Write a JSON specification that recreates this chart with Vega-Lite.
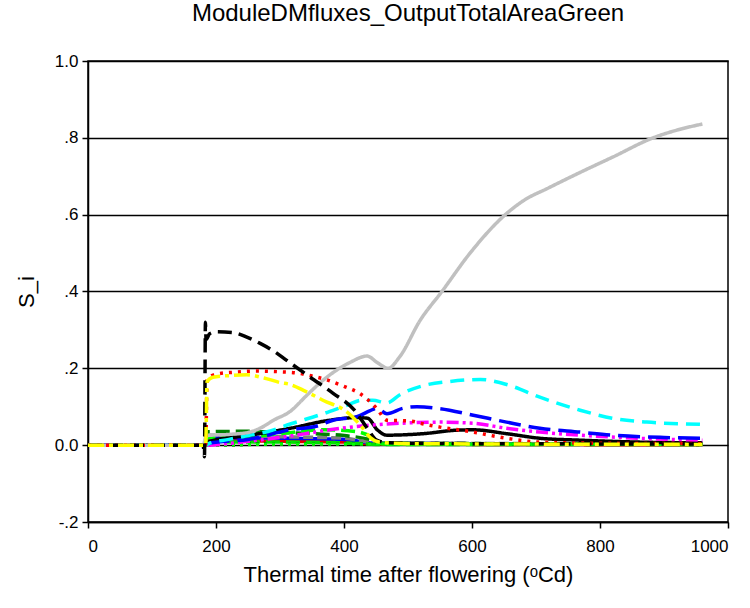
{
  "$schema": "https://vega.github.io/schema/vega-lite/v6.json",
  "autosize": "none",
  "width": 640,
  "height": 461,
  "padding": {"left": 88, "top": 61, "right": 22, "bottom": 86},
  "background": "white",
  "title": {"text": "ModuleDMfluxes_OutputTotalAreaGreen", "anchor": "middle", "frame": "group", "font": "Liberation Sans", "fontSize": 24, "fontWeight": "normal", "color": "black", "offset": 26},
  "config": {
    "view": {"stroke": "black", "strokeWidth": 1.5},
    "axis": {"labelFont": "Liberation Sans", "titleFont": "Liberation Sans", "labelFontSize": 17, "titleFontSize": 22, "titleFontWeight": "normal", "labelColor": "black", "titleColor": "black", "domainColor": "black", "tickColor": "black", "domainWidth": 1.5, "tickWidth": 1.5, "tickSize": 6}
  },
  "data": {"values": [
    {"s":"redsolid","x":0,"y":0},{"s":"redsolid","x":184,"y":0},{"s":"redsolid","x":186,"y":0.012},{"s":"redsolid","x":300,"y":0.01},{"s":"redsolid","x":400,"y":0.008},{"s":"redsolid","x":450,"y":0.003},{"s":"redsolid","x":960,"y":0.001},
    {"s":"bluesolid","x":0,"y":0},{"s":"bluesolid","x":184,"y":0},{"s":"bluesolid","x":186,"y":0.02},{"s":"bluesolid","x":300,"y":0.018},{"s":"bluesolid","x":400,"y":0.015},{"s":"bluesolid","x":450,"y":0.005},{"s":"bluesolid","x":960,"y":0.002},
    {"s":"graymid","x":0,"y":0},{"s":"graymid","x":184,"y":0},{"s":"graymid","x":186,"y":0.026},{"s":"graymid","x":300,"y":0.022},{"s":"graymid","x":400,"y":0.018},{"s":"graymid","x":450,"y":0.006},{"s":"graymid","x":960,"y":0.003},
    {"s":"greenlow","x":0,"y":0},{"s":"greenlow","x":184,"y":0},{"s":"greenlow","x":186,"y":0.008},{"s":"greenlow","x":300,"y":0.008},{"s":"greenlow","x":400,"y":0.006},{"s":"greenlow","x":450,"y":0.002},{"s":"greenlow","x":960,"y":0.002},
    {"s":"darkgreen","x":0,"y":0},{"s":"darkgreen","x":184,"y":0},{"s":"darkgreen","x":186,"y":0.035},{"s":"darkgreen","x":250,"y":0.036},{"s":"darkgreen","x":300,"y":0.033},{"s":"darkgreen","x":350,"y":0.03},{"s":"darkgreen","x":400,"y":0.025},{"s":"darkgreen","x":440,"y":0.015},{"s":"darkgreen","x":460,"y":0.005},{"s":"darkgreen","x":960,"y":0.003},
    {"s":"green","x":0,"y":0},{"s":"green","x":184,"y":0},{"s":"green","x":186,"y":0.02},{"s":"green","x":250,"y":0.022},{"s":"green","x":300,"y":0.03},{"s":"green","x":370,"y":0.04},{"s":"green","x":420,"y":0.035},{"s":"green","x":445,"y":0.02},{"s":"green","x":460,"y":0.003},{"s":"green","x":960,"y":0.002},
    {"s":"blackdot","x":0,"y":0},{"s":"blackdot","x":184,"y":0},{"s":"blackdot","x":300,"y":0.004},{"s":"blackdot","x":960,"y":0.002},
    {"s":"greendot","x":0,"y":0},{"s":"greendot","x":184,"y":0},{"s":"greendot","x":300,"y":0.003},{"s":"greendot","x":960,"y":0.003},
    {"s":"blacksolid","x":0,"y":0},{"s":"blacksolid","x":184,"y":0},{"s":"blacksolid","x":190,"y":0.01},{"s":"blacksolid","x":250,"y":0.025},{"s":"blacksolid","x":316,"y":0.044},{"s":"blacksolid","x":378,"y":0.065},{"s":"blacksolid","x":420,"y":0.072},{"s":"blacksolid","x":437,"y":0.07},{"s":"blacksolid","x":452,"y":0.04},{"s":"blacksolid","x":467,"y":0.026},{"s":"blacksolid","x":524,"y":0.03},{"s":"blacksolid","x":576,"y":0.039},{"s":"blacksolid","x":602,"y":0.04},{"s":"blacksolid","x":654,"y":0.03},{"s":"blacksolid","x":706,"y":0.018},{"s":"blacksolid","x":769,"y":0.013},{"s":"blacksolid","x":860,"y":0.008},{"s":"blacksolid","x":960,"y":0.006},
    {"s":"magenta","x":0,"y":0},{"s":"magenta","x":184,"y":0},{"s":"magenta","x":250,"y":0.01},{"s":"magenta","x":300,"y":0.02},{"s":"magenta","x":340,"y":0.03},{"s":"magenta","x":378,"y":0.04},{"s":"magenta","x":441,"y":0.052},{"s":"magenta","x":488,"y":0.057},{"s":"magenta","x":550,"y":0.06},{"s":"magenta","x":602,"y":0.057},{"s":"magenta","x":654,"y":0.044},{"s":"magenta","x":706,"y":0.034},{"s":"magenta","x":769,"y":0.026},{"s":"magenta","x":860,"y":0.018},{"s":"magenta","x":960,"y":0.013},
    {"s":"blue","x":0,"y":0},{"s":"blue","x":184,"y":0},{"s":"blue","x":190,"y":0.005},{"s":"blue","x":250,"y":0.015},{"s":"blue","x":316,"y":0.04},{"s":"blue","x":358,"y":0.05},{"s":"blue","x":383,"y":0.065},{"s":"blue","x":420,"y":0.074},{"s":"blue","x":441,"y":0.09},{"s":"blue","x":451,"y":0.096},{"s":"blue","x":467,"y":0.082},{"s":"blue","x":492,"y":0.096},{"s":"blue","x":514,"y":0.1},{"s":"blue","x":550,"y":0.095},{"s":"blue","x":602,"y":0.078},{"s":"blue","x":654,"y":0.06},{"s":"blue","x":706,"y":0.044},{"s":"blue","x":769,"y":0.034},{"s":"blue","x":820,"y":0.026},{"s":"blue","x":900,"y":0.02},{"s":"blue","x":960,"y":0.018},
    {"s":"cyan","x":0,"y":0},{"s":"cyan","x":184,"y":0},{"s":"cyan","x":190,"y":0.005},{"s":"cyan","x":220,"y":0.015},{"s":"cyan","x":250,"y":0.025},{"s":"cyan","x":280,"y":0.035},{"s":"cyan","x":316,"y":0.055},{"s":"cyan","x":368,"y":0.082},{"s":"cyan","x":405,"y":0.104},{"s":"cyan","x":428,"y":0.117},{"s":"cyan","x":445,"y":0.117},{"s":"cyan","x":467,"y":0.11},{"s":"cyan","x":488,"y":0.132},{"s":"cyan","x":524,"y":0.155},{"s":"cyan","x":566,"y":0.166},{"s":"cyan","x":613,"y":0.171},{"s":"cyan","x":654,"y":0.158},{"s":"cyan","x":706,"y":0.125},{"s":"cyan","x":769,"y":0.091},{"s":"cyan","x":820,"y":0.07},{"s":"cyan","x":873,"y":0.06},{"s":"cyan","x":961,"y":0.054},
    {"s":"gray","x":0,"y":0},{"s":"gray","x":180,"y":0},{"s":"gray","x":185,"y":0.025},{"s":"gray","x":220,"y":0.028},{"s":"gray","x":250,"y":0.033},{"s":"gray","x":270,"y":0.045},{"s":"gray","x":290,"y":0.065},{"s":"gray","x":316,"y":0.088},{"s":"gray","x":342,"y":0.13},{"s":"gray","x":368,"y":0.17},{"s":"gray","x":409,"y":0.215},{"s":"gray","x":436,"y":0.232},{"s":"gray","x":452,"y":0.215},{"s":"gray","x":469,"y":0.2},{"s":"gray","x":487,"y":0.23},{"s":"gray","x":519,"y":0.325},{"s":"gray","x":553,"y":0.4},{"s":"gray","x":597,"y":0.5},{"s":"gray","x":652,"y":0.6},{"s":"gray","x":680,"y":0.636},{"s":"gray","x":720,"y":0.67},{"s":"gray","x":769,"y":0.71},{"s":"gray","x":820,"y":0.75},{"s":"gray","x":883,"y":0.8},{"s":"gray","x":920,"y":0.82},{"s":"gray","x":960,"y":0.836},
    {"s":"reddot","x":0,"y":0},{"s":"reddot","x":184,"y":0},{"s":"reddot","x":186,"y":0.17},{"s":"reddot","x":200,"y":0.185},{"s":"reddot","x":230,"y":0.19},{"s":"reddot","x":264,"y":0.193},{"s":"reddot","x":300,"y":0.191},{"s":"reddot","x":326,"y":0.188},{"s":"reddot","x":350,"y":0.18},{"s":"reddot","x":373,"y":0.17},{"s":"reddot","x":400,"y":0.153},{"s":"reddot","x":425,"y":0.134},{"s":"reddot","x":451,"y":0.096},{"s":"reddot","x":467,"y":0.065},{"s":"reddot","x":485,"y":0.064},{"s":"reddot","x":503,"y":0.063},{"s":"reddot","x":525,"y":0.055},{"s":"reddot","x":550,"y":0.047},{"s":"reddot","x":602,"y":0.034},{"s":"reddot","x":654,"y":0.018},{"s":"reddot","x":706,"y":0.008},{"s":"reddot","x":800,"y":0.005},{"s":"reddot","x":960,"y":0.004},
    {"s":"blackdash","x":0,"y":0},{"s":"blackdash","x":180,"y":0},{"s":"blackdash","x":182,"y":-0.03},{"s":"blackdash","x":183.5,"y":0.32},{"s":"blackdash","x":184.5,"y":0.275},{"s":"blackdash","x":190,"y":0.29},{"s":"blackdash","x":200,"y":0.295},{"s":"blackdash","x":227,"y":0.293},{"s":"blackdash","x":250,"y":0.28},{"s":"blackdash","x":269,"y":0.265},{"s":"blackdash","x":290,"y":0.245},{"s":"blackdash","x":311,"y":0.22},{"s":"blackdash","x":347,"y":0.177},{"s":"blackdash","x":383,"y":0.135},{"s":"blackdash","x":417,"y":0.09},{"s":"blackdash","x":438,"y":0.04},{"s":"blackdash","x":451,"y":0.013},{"s":"blackdash","x":470,"y":0.006},{"s":"blackdash","x":600,"y":0.004},{"s":"blackdash","x":960,"y":0.003},
    {"s":"yellow","x":0,"y":0},{"s":"yellow","x":184,"y":0},{"s":"yellow","x":186,"y":0.165},{"s":"yellow","x":195,"y":0.177},{"s":"yellow","x":220,"y":0.181},{"s":"yellow","x":248,"y":0.183},{"s":"yellow","x":275,"y":0.175},{"s":"yellow","x":300,"y":0.163},{"s":"yellow","x":316,"y":0.158},{"s":"yellow","x":340,"y":0.14},{"s":"yellow","x":367,"y":0.117},{"s":"yellow","x":405,"y":0.086},{"s":"yellow","x":428,"y":0.047},{"s":"yellow","x":441,"y":0.02},{"s":"yellow","x":455,"y":0.008},{"s":"yellow","x":500,"y":0.004},{"s":"yellow","x":960,"y":0.002}
  ]},
  "mark": {"type": "line", "strokeWidth": 3.5, "interpolate": "monotone", "strokeCap": "butt", "clip": true},
  "encoding": {
    "x": {"field": "x", "type": "quantitative", "scale": {"domain": [0, 1000], "nice": false}, "axis": {"values": [0, 200, 400, 600, 800, 1000], "format": "d", "grid": false, "title": "Thermal time after flowering (ᵒCd)", "labelPadding": 10, "titlePadding": 10}},
    "y": {"field": "y", "type": "quantitative", "scale": {"domain": [-0.2, 1.0], "nice": false, "zero": false}, "axis": {"values": [-0.2, 0, 0.2, 0.4, 0.6, 0.8, 1.0], "grid": true, "gridColor": "black", "gridWidth": 1.5, "gridOpacity": 1, "title": "S_i", "titlePadding": 16, "labelPadding": 4, "labelExpr": "datum.value < -0.1 ? '-.2' : (abs(datum.value) < 0.01 ? '0.0' : (datum.value > 0.9 ? '1.0' : '.' + round(datum.value * 10)))"}},
    "color": {"field": "s", "type": "nominal", "legend": null, "scale": {
      "domain": ["redsolid","bluesolid","graymid","greenlow","darkgreen","green","blackdot","greendot","blacksolid","magenta","blue","cyan","gray","reddot","blackdash","yellow"],
      "range": ["#e00000","#0000ff","#808080","#00e000","#008000","#00ff00","#000000","#00ff00","#000000","#ff00ff","#0000ff","#00ffff","#c0c0c0","#ff0000","#000000","#ffff00"]}},
    "strokeDash": {"field": "s", "type": "nominal", "legend": null, "scale": {
      "domain": ["redsolid","bluesolid","graymid","greenlow","darkgreen","green","blackdot","greendot","blacksolid","magenta","blue","cyan","gray","reddot","blackdash","yellow"],
      "range": [[1,0],[1,0],[10,4],[14,6],[14,6],[14,6],[3,5],[3,5],[1,0],[12,4,3,4,3,4],[22,8],[14,8],[1,0],[3,6],[14,7],[16,5,4,5]]}},
    "order": {"value": 0}
  }
}
